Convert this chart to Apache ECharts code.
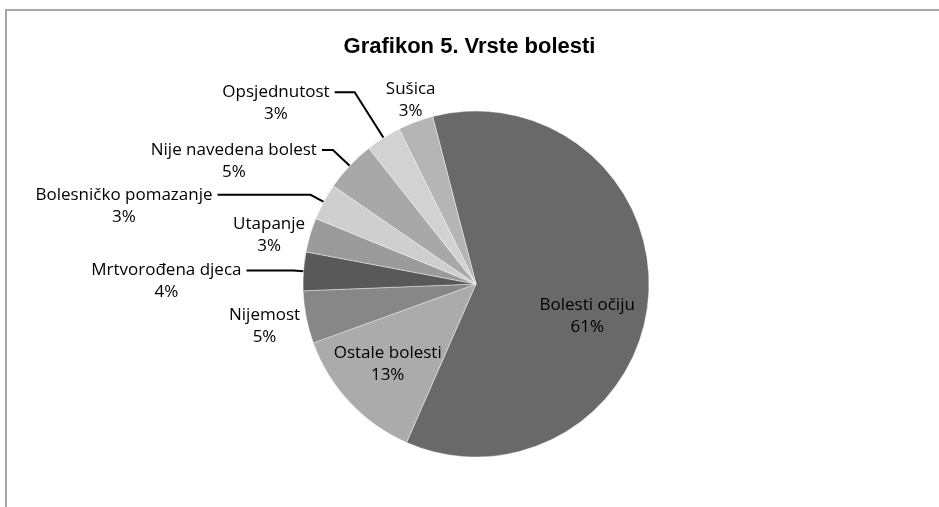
<!DOCTYPE html>
<html>
<head>
<meta charset="utf-8">
<title>Grafikon 5. Vrste bolesti</title>
<script src="https://cdn.jsdelivr.net/npm/echarts@6/dist/echarts.min.js"></script>
<style>
  html, body { margin: 0; padding: 0; background: #fff; }
  #chart { width: 939px; height: 507px; }
</style>
</head>
<body>
<div id="chart"></div>
<script>
// vrste bolesti, od vrha u smjeru kazaljke na satu
const categories = ["Bolesti očiju", "Ostale bolesti", "Nijemost", "Mrtvorođena djeca", "Utapanje", "Bolesničko pomazanje", "Nije navedena bolest", "Opsjednutost", "Sušica"]
const shares = [60.6, 12.9, 4.9, 3.6, 3.2, 3.4, 4.8, 3.3, 3.3]

const colors = ["#696969", "#ababab", "#878787", "#595959", "#9b9b9b", "#cfcfcf", "#a8a8a8", "#d2d2d2", "#b5b5b5"]
// [length, length2, vidljiva linija] za vanjske oznake
const guides = [null, null, [45, -43, false], [10, 47, true], [0, 0, false], [15, 93, true], [23, 11, true], [54, 20, true], [23, -33, false]]
const insideShift = { 0: [22, 25], 1: [-23, 19] }
const LINE_H = 22
const FONT = "'Open Sans', 'Noto Sans', sans-serif"

const chart = echarts.init(document.getElementById("chart"))

const data = categories.map((name, i) => {
  const item = { name, value: shares[i], itemStyle: { color: colors[i] } }
  const g = guides[i]
  if (!g) {
    item.label = { position: "inside" }
    item.labelLine = { show: false }
  } else {
    item.labelLine = { show: g[2], length: g[0], length2: g[1] }
  }
  return item
})

chart.setOption({
  animation: false,
  backgroundColor: "#fff",
  title: {
    text: "Grafikon 5. Vrste bolesti",
    left: "center",
    top: 31,
    textStyle: { fontFamily: "'Liberation Sans', Arial, sans-serif", fontWeight: "bold", fontSize: 22, color: "#000" }
  },
  graphic: [{
    type: "rect",
    silent: true,
    shape: { x: 6, y: 10, width: 1000, height: 1000 },
    style: { fill: "none", stroke: "#a6a6a6", lineWidth: 2 }
  }],
  series: [{
    type: "pie",
    center: [476, 284],
    radius: 173,
    startAngle: 104.5,
    clockwise: true,
    avoidLabelOverlap: false,
    itemStyle: { borderColor: "#fff", borderWidth: 0.4 },
    label: {
      position: "outside",
      distanceToLabelLine: 5,
      fontFamily: FONT,
      formatter: p => `{t|${p.name}}\n{t|${Math.round(p.percent)}%}`,
      rich: {
        t: { align: "center", fontFamily: FONT, fontSize: 17, lineHeight: LINE_H, color: "#000" }
      }
    },
    labelLine: {
      smooth: false,
      minTurnAngle: 0,
      maxSurfaceAngle: 180,
      lineStyle: { color: "#000", width: 2 }
    },
    labelLayout: params => {
      const r = params.labelRect
      const i = params.dataIndex
      if (insideShift[i]) {
        return { x: r.x + r.width / 2 + insideShift[i][0], y: r.y + r.height / 2 + insideShift[i][1] }
      }
      const g = guides[i]
      if (g && g[2]) {
        return { y: r.y + r.height / 2 + LINE_H / 2, labelLinePoints: params.labelLinePoints }
      }
    },
    data
  }]
})
</script>
</body>
</html>
